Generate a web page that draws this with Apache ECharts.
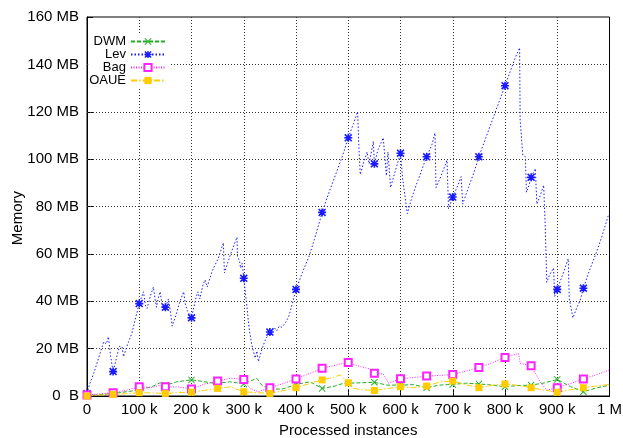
<!DOCTYPE html>
<html>
<head>
<meta charset="utf-8">
<script src="https://cdn.jsdelivr.net/npm/echarts@6/dist/echarts.min.js"></script>
<style>
  html, body { margin: 0; padding: 0; background: #fff; }
  #chart { width: 623px; height: 438px; }
</style>
</head>
<body>
<div id="chart"></div>
<script>
// Memory usage of four ensemble classifiers over a 1M-instance stream.
// x values are in thousands of processed instances, y values in MB.

const xTickStep = 100;   // k instances
const yTickStep = 20;    // MB
const markEvery = 50;    // a point symbol every 50 k instances

// interior grid positions (the frame covers 0 / max)
const xGrid = [100, 200, 300, 400, 500, 600, 700, 800, 900];
const yGrid = [20, 40, 60, 80, 100, 120, 140];

const dwmK  = [0, 25, 50, 75, 100, 125, 140, 150, 172, 200, 220, 242, 250, 274, 300, 325, 335, 350, 375, 400, 427, 450, 475, 491, 500, 525, 550, 574, 600, 625, 650, 675, 700, 725, 750, 775, 800, 825, 850, 875, 900, 925, 950, 975, 1000];
const dwmMB = [0.2, 0.6, 1.0, 1.8, 2.5, 4.0, 5.6, 4.5, 6.0, 6.8, 6.2, 5.4, 5.4, 6.0, 5.1, 7.5, 4.5, 2.8, 3.0, 4.9, 6.0, 3.2, 4.2, 5.4, 5.4, 5.6, 5.8, 4.6, 4.6, 4.8, 3.5, 4.6, 4.9, 5.4, 5.1, 4.6, 3.9, 4.4, 4.6, 5.5, 7.0, 4.0, 1.8, 3.4, 4.6];

const levK  = [0, 5, 13, 25, 32, 37, 41, 45, 50, 57, 62, 67, 70, 78, 86, 93, 100, 108, 112, 115, 121, 127, 131, 133, 137, 140, 144, 150, 156, 160, 163, 170, 178, 185, 188, 192, 200, 207, 212, 216, 222, 226, 230, 240, 251, 261, 263, 275, 287, 288, 292, 294, 297, 300, 305, 310, 315, 319, 322, 325, 328, 335, 342, 350, 358, 363, 368, 373, 380, 386, 393, 400, 412, 425, 435, 443, 450, 460, 475, 490, 500, 510, 518, 520, 523, 530, 536, 540, 548, 550, 557, 567, 573, 576, 581, 590, 600, 604, 613, 622, 630, 640, 650, 660, 666, 668, 676, 683, 689, 692, 700, 710, 716, 719, 730, 740, 750, 760, 775, 790, 800, 810, 820, 828, 829, 834, 839, 841, 846, 850, 858, 861, 868, 874, 877, 880, 885, 893, 895, 900, 910, 921, 923, 930, 937, 944, 950, 960, 973, 985, 998, 1000];
const levMB = [1, 5, 9.6, 18, 22.9, 22, 25, 17, 10.3, 16.6, 21, 20.8, 16.6, 22, 26.5, 33, 39, 44, 38, 37, 42, 46, 40, 37.5, 42, 44, 38, 37.5, 41, 35, 29.5, 34, 40, 44, 39, 36, 33, 40, 44, 41, 47, 49, 46, 53, 58, 64.7, 52, 60, 67, 59, 57, 54, 56, 49.7, 40, 29, 22, 18.5, 16, 19, 14.5, 20, 24, 27, 29, 27.5, 29.5, 29, 31, 33.5, 39, 45, 52, 59, 66, 72, 77.5, 84, 93, 102, 109, 115, 120, 107, 93.5, 99, 103, 98, 107.5, 98, 104, 109, 93, 103, 88, 95, 102.5, 92, 77, 84, 89, 95, 101, 106, 111, 88, 92, 96, 99.5, 79, 84, 89, 92.6, 81, 88, 94, 101, 107, 116, 125, 131, 137, 143, 147, 116.5, 101.7, 101, 86, 89, 92.3, 96, 81, 85, 89, 71.5, 48, 51, 54, 42, 45, 51, 58, 41, 33, 37, 40.5, 45.5, 52, 59.5, 67, 76.4, 77];

const bagK  = [0, 25, 50, 75, 100, 125, 140, 150, 175, 200, 225, 250, 274, 300, 312, 328, 350, 375, 400, 427, 450, 475, 491, 500, 517, 542, 550, 567, 577, 600, 625, 650, 675, 700, 725, 750, 775, 800, 826, 829, 850, 858, 867, 880, 900, 925, 950, 975, 1000];
const bagMB = [0.4, 0.9, 1.4, 2.4, 3.9, 3.6, 4.6, 3.9, 3.8, 3.0, 5.0, 6.3, 7.5, 7.0, 3.2, 1.8, 3.5, 5.2, 7.2, 9.6, 11.7, 13.0, 13.8, 14.1, 12.8, 11.4, 9.6, 9.3, 5.4, 7.3, 7.8, 8.4, 8.7, 9.1, 10.5, 12.0, 14.0, 16.3, 18.0, 13.8, 12.8, 9.6, 6.0, 2.5, 3.5, 5.2, 7.2, 9.0, 11.0];

const oaueK  = [0, 25, 50, 75, 100, 125, 150, 175, 200, 225, 250, 274, 300, 325, 350, 375, 400, 425, 450, 470, 485, 500, 510, 530, 550, 577, 600, 625, 650, 676, 700, 725, 750, 775, 800, 825, 850, 875, 900, 925, 950, 975, 1000];
const oaueMB = [0, 0.4, 0.7, 1.0, 1.4, 1.3, 1.1, 1.4, 1.6, 2.4, 3.2, 3.9, 1.8, 1.4, 1.1, 2.2, 3.5, 5.2, 6.8, 7.8, 8.9, 5.6, 3.2, 2.6, 2.3, 3.2, 3.9, 3.5, 4.2, 6.0, 6.3, 4.8, 3.5, 4.5, 5.1, 4.5, 3.5, 2.5, 1.6, 2.6, 3.5, 4.2, 4.9];

const FONT = '"Liberation Sans", Arial, Helvetica, sans-serif';

// point shapes: a thin "x" and an eight-armed asterisk
const CROSS = 'path://M1,0L5,4L9,0L10,1L6,5L10,9L9,10L5,6L1,10L0,9L4,5L0,1Z';
const STAR  = 'path://M4,0H6V4H10V6H6V10H4V6H0V4H4Z' +
              'M1.4,0L5,3.6L8.6,0L10,1.4L6.4,5L10,8.6L8.6,10L5,6.4L1.4,10L0,8.6L3.6,5L0,1.4Z';

const pairs = (ks, vs) => ks.map((k, i) => [k, vs[i]]);
// symbols every 50 k, none on the last sample
const marked = size => v => (v[0] % markEvery === 0 && v[0] < 1000 ? size : 0);

function xLabel(v) {
  if (v === 0) return '0';
  if (v === 1000) return '1 M';
  return v + ' k';
}
function yLabel(v) {
  return v === 0 ? '0  B' : v + ' MB';
}

function lineSeries(name, data, color, dash, symbol, size, extra) {
  return Object.assign({
    name: name,
    type: 'line',
    data: data,
    showSymbol: true,
    symbol: symbol,
    symbolSize: marked(size),
    lineStyle: { color: color, width: 1, type: dash },
    itemStyle: { color: color },
    emphasis: { disabled: true },
    silent: true,
    z: 3
  }, extra || {});
}

// dotted reference grid, drawn at the axis tick values behind the curves
const gridMarks = {
  silent: true,
  symbol: ['none', 'none'],
  z: 1,
  label: { show: false },
  emphasis: { disabled: true },
  lineStyle: { color: '#333', width: 1, type: [1, 2] },
  data: xGrid.map(v => ({ xAxis: v })).concat(yGrid.map(v => ({ yAxis: v })))
};

const chart = echarts.init(document.getElementById('chart'));

chart.setOption({
  animation: false,
  grid: {
    left: 87, right: 13.5, top: 17, bottom: 42, outerBoundsMode: 'none',
    show: true, borderColor: '#000', borderWidth: 1, backgroundColor: 'transparent'
  },
  legend: {
    data: ['DWM', 'Lev', 'Bag', 'OAUE'],
    orient: 'vertical',
    align: 'right',
    right: 452,
    top: 33,
    itemWidth: 34,
    itemHeight: 9,
    itemGap: 0,
    padding: [2, 5, 2, 1],
    backgroundColor: '#fff',
    selectedMode: false,
    z: 6,
    textStyle: { fontFamily: FONT, fontSize: 13, lineHeight: 12, color: '#000' }
  },
  // axis titles
  graphic: [
    { type: 'text', left: 279, top: 423,
      style: { text: 'Processed instances', font: '15px ' + FONT, fill: '#000' } },
    { type: 'text', left: 10, top: 191, rotation: Math.PI / 2,
      style: { text: 'Memory', font: '15px ' + FONT, fill: '#000' } }
  ],
  xAxis: {
    type: 'value', min: 0, max: 1000, interval: xTickStep,
    axisLine: { show: true, lineStyle: { color: '#000' } },
    axisTick: { show: true, inside: true, length: 6, lineStyle: { color: '#000' } },
    splitLine: { show: false },
    axisLabel: { formatter: xLabel, margin: 6, fontSize: 15, color: '#000', fontFamily: FONT }
  },
  yAxis: {
    type: 'value', min: 0, max: 160, interval: yTickStep,
    axisLine: { show: true, lineStyle: { color: '#000' } },
    axisTick: { show: true, inside: true, length: 6, lineStyle: { color: '#000' } },
    splitLine: { show: false },
    axisLabel: { formatter: yLabel, margin: 8, fontSize: 15, color: '#000', fontFamily: FONT }
  },
  series: [
    lineSeries('DWM', pairs(dwmK, dwmMB), '#22b022', [4, 2], CROSS, 7, { markLine: gridMarks }),
    lineSeries('Lev', pairs(levK, levMB), '#1a1aff', [1.5, 2], STAR, 8),
    lineSeries('Bag', pairs(bagK, bagMB), '#ff22ff', [1, 1.5], 'emptyRect', 7,
      { itemStyle: { color: '#ff22ff', borderWidth: 1.5 } }),
    lineSeries('OAUE', pairs(oaueK, oaueMB), '#ffcc00', [6, 2, 1.5, 2], 'rect', 7)
  ]
});
</script>
</body>
</html>
